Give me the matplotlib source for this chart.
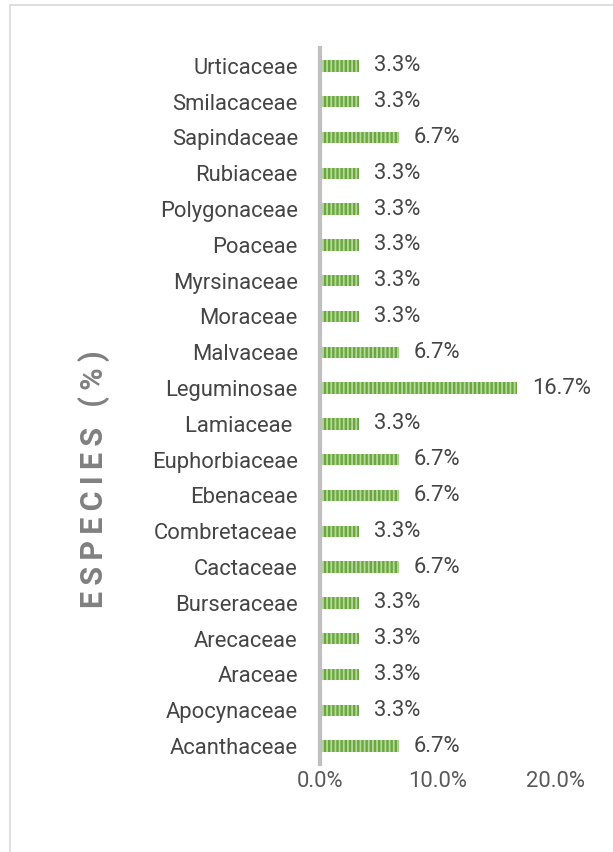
import matplotlib.pyplot as plt
from matplotlib.patches import Rectangle
from matplotlib.ticker import FuncFormatter

families = ["Acanthaceae", "Apocynaceae", "Araceae", "Arecaceae", "Burseraceae",
            "Cactaceae", "Combretaceae", "Ebenaceae", "Euphorbiaceae", "Lamiaceae ",
            "Leguminosae", "Malvaceae", "Moraceae", "Myrsinaceae", "Poaceae",
            "Polygonaceae", "Rubiaceae", "Sapindaceae", "Smilacaceae", "Urticaceae"]
percent = [6.7, 3.3, 3.3, 3.3, 3.3,
           6.7, 3.3, 6.7, 6.7, 3.3,
           16.7, 6.7, 3.3, 3.3, 3.3,
           3.3, 3.3, 6.7, 3.3, 3.3]
xticks = [0.0, 0.1, 0.2]

plt.rcParams['font.family'] = ['Roboto', 'DejaVu Sans']
plt.rcParams['hatch.linewidth'] = 1.3

fig = plt.figure(figsize=(6.13, 8.52), dpi=100)
ax = fig.add_axes([0.522, 0.1033, 0.385, 0.8404])

y = list(range(len(families)))
vals = [p / 100 for p in percent]
ax.barh(y, vals, height=0.32, color='#6AA83E', edgecolor='#B5D99C',
        linewidth=0, hatch='||||')

for yi, v, p in zip(y, vals, percent):
    ax.text(v + 0.0125, yi, f"{p:.1f}%", va='center', ha='left',
            fontsize=15.8, color='#454545')

ax.set_xlim(0, 0.2)
ax.set_ylim(-0.5, len(families) - 0.5)
ax.set_yticks(y)
ax.set_yticklabels(families, fontsize=15.8, color='#454545')
ax.set_xticks(xticks)
ax.xaxis.set_major_formatter(FuncFormatter(lambda v, pos: f"{v * 100:.1f}%"))
ax.tick_params(axis='x', length=0, labelsize=15.8, labelcolor='#595959', pad=5)
ax.tick_params(axis='y', length=0, pad=16)

for s in ['top', 'right', 'bottom']:
    ax.spines[s].set_visible(False)
ax.spines['left'].set_color('#BFBFBF')
ax.spines['left'].set_linewidth(3)

# axis title with wide letter spacing
title = "\u2009".join("ESPECIES (%)")
fig.text(0.153, 0.437, title, rotation=90, ha='center', va='center',
         fontsize=22, fontweight='bold', color='#808080')

# light frame around the chart area
fig.patches.append(Rectangle((10 / 613, -0.05), 1.0, 1 - 5 / 852 + 0.05,
                             transform=fig.transFigure, fill=False,
                             edgecolor='#D9D9D9', linewidth=1.2))

fig.savefig('out.png', dpi=100)
